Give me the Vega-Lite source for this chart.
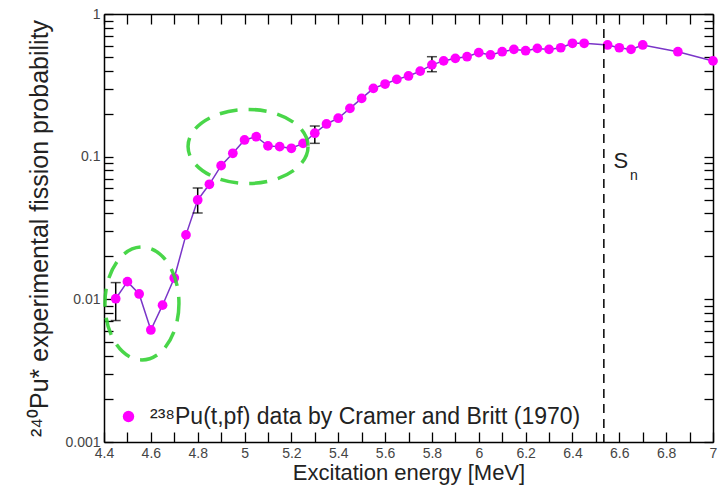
{
  "$schema": "https://vega.github.io/schema/vega-lite/v6.json",
  "width": 609,
  "height": 428,
  "autosize": {"type": "none"},
  "padding": {"left": 104, "top": 14, "right": 12, "bottom": 46},
  "background": "white",
  "config": {
    "view": {"stroke": null},
    "font": "Liberation Sans",
    "axis": {
      "grid": false,
      "domainColor": "black",
      "domainWidth": 1.5,
      "tickColor": "black",
      "tickWidth": 1.3,
      "labelFont": "Liberation Sans",
      "labelFontSize": 14,
      "labelColor": "#444",
      "titleFont": "Liberation Sans",
      "titleFontWeight": "normal",
      "titleColor": "#222",
      "labelFlush": false
    }
  },
  "datasets": {
    "pts": [
      {"E": 4.45, "P": 0.0101}, {"E": 4.50, "P": 0.0133}, {"E": 4.55, "P": 0.0109}, {"E": 4.60, "P": 0.0061},
      {"E": 4.65, "P": 0.0091}, {"E": 4.70, "P": 0.0141}, {"E": 4.75, "P": 0.0283}, {"E": 4.80, "P": 0.0497},
      {"E": 4.85, "P": 0.064}, {"E": 4.90, "P": 0.0865}, {"E": 4.95, "P": 0.1056}, {"E": 5.00, "P": 0.131},
      {"E": 5.05, "P": 0.138}, {"E": 5.10, "P": 0.119}, {"E": 5.15, "P": 0.1175}, {"E": 5.20, "P": 0.1145},
      {"E": 5.25, "P": 0.124}, {"E": 5.30, "P": 0.146}, {"E": 5.35, "P": 0.1695}, {"E": 5.40, "P": 0.186},
      {"E": 5.45, "P": 0.218}, {"E": 5.50, "P": 0.256}, {"E": 5.55, "P": 0.301}, {"E": 5.60, "P": 0.323},
      {"E": 5.65, "P": 0.348}, {"E": 5.70, "P": 0.368}, {"E": 5.75, "P": 0.398}, {"E": 5.80, "P": 0.44},
      {"E": 5.85, "P": 0.469}, {"E": 5.90, "P": 0.489}, {"E": 5.95, "P": 0.502}, {"E": 6.00, "P": 0.536},
      {"E": 6.05, "P": 0.516}, {"E": 6.10, "P": 0.544}, {"E": 6.15, "P": 0.565}, {"E": 6.20, "P": 0.553},
      {"E": 6.25, "P": 0.574}, {"E": 6.30, "P": 0.565}, {"E": 6.35, "P": 0.58}, {"E": 6.40, "P": 0.623},
      {"E": 6.45, "P": 0.623}, {"E": 6.55, "P": 0.607}, {"E": 6.60, "P": 0.58}, {"E": 6.65, "P": 0.565},
      {"E": 6.70, "P": 0.607}, {"E": 6.85, "P": 0.544}, {"E": 7.00, "P": 0.469}
    ],
    "err": [
      {"E": 4.45, "lo": 0.0071, "hi": 0.0131},
      {"E": 4.80, "lo": 0.0403, "hi": 0.0603},
      {"E": 5.30, "lo": 0.124, "hi": 0.164},
      {"E": 5.80, "lo": 0.394, "hi": 0.502}
    ],
    "one": [{}]
  },
  "resolve": {"axis": {"x": "independent", "y": "independent"}},
  "layer": [
    {
      "data": {"name": "pts"},
      "mark": {"type": "line", "color": "#7a35c8", "strokeWidth": 1.5},
      "encoding": {
        "x": {
          "field": "E", "type": "quantitative",
          "scale": {"domain": [4.4, 7], "nice": false, "zero": false},
          "axis": {
            "orient": "bottom",
            "title": "Excitation energy [MeV]",
            "titleFontSize": 22,
            "values": [4.4, 4.5, 4.6, 4.7, 4.8, 4.9, 5.0, 5.1, 5.2, 5.3, 5.4, 5.5, 5.6, 5.7, 5.8, 5.9, 6.0, 6.1, 6.2, 6.3, 6.4, 6.5, 6.6, 6.7, 6.8, 6.9, 7.0],
            "format": "~g",
            "labelExpr": "round(datum.value*10) % 2 == 0 ? datum.label : ''",
            "tickSize": -10,
            "labelPadding": 14,
            "titlePadding": 2
          }
        },
        "y": {
          "field": "P", "type": "quantitative",
          "scale": {"type": "log", "domain": [0.001, 1], "nice": false},
          "axis": {
            "orient": "left",
            "title": "²⁴⁰Pu* experimental fission probability",
            "titleFontSize": 25,
            "values": [0.001, 0.002, 0.003, 0.004, 0.005, 0.006, 0.007, 0.008, 0.009, 0.01, 0.02, 0.03, 0.04, 0.05, 0.06, 0.07, 0.08, 0.09, 0.1, 0.2, 0.3, 0.4, 0.5, 0.6, 0.7, 0.8, 0.9, 1],
            "format": "~g",
            "labelExpr": "(datum.value == 0.001 || datum.value == 0.01 || datum.value == 0.1 || datum.value == 1) ? datum.label : ''",
            "tickSize": -9,
            "labelPadding": 13,
            "titlePadding": 12
          }
        }
      }
    },
    {
      "data": {"name": "err"},
      "mark": {"type": "rule", "color": "black", "strokeWidth": 1.5},
      "encoding": {
        "x": {
          "field": "E", "type": "quantitative",
          "axis": {
            "orient": "top", "title": null, "labels": false,
            "values": [4.4, 4.5, 4.6, 4.7, 4.8, 4.9, 5.0, 5.1, 5.2, 5.3, 5.4, 5.5, 5.6, 5.7, 5.8, 5.9, 6.0, 6.1, 6.2, 6.3, 6.4, 6.5, 6.6, 6.7, 6.8, 6.9, 7.0],
            "tickSize": -10
          }
        },
        "y": {
          "field": "lo", "type": "quantitative",
          "axis": {
            "orient": "right", "title": null, "labels": false,
            "values": [0.001, 0.002, 0.003, 0.004, 0.005, 0.006, 0.007, 0.008, 0.009, 0.01, 0.02, 0.03, 0.04, 0.05, 0.06, 0.07, 0.08, 0.09, 0.1, 0.2, 0.3, 0.4, 0.5, 0.6, 0.7, 0.8, 0.9, 1],
            "tickSize": -9
          }
        },
        "y2": {"field": "hi"}
      }
    },
    {
      "data": {"name": "pts"},
      "mark": {"type": "point", "shape": "circle", "filled": true, "size": 95, "opacity": 1},
      "encoding": {
        "x": {"field": "E", "type": "quantitative", "axis": null},
        "y": {"field": "P", "type": "quantitative", "axis": null},
        "color": {
          "datum": "²³⁸Pu(t,pf) data by Cramer and Britt (1970)",
          "scale": {"range": ["#ff00ff"]},
          "legend": {
            "title": null,
            "orient": "bottom-left",
            "offset": 13,
            "labelFontSize": 23,
            "labelFont": "Liberation Sans",
            "labelColor": "#222",
            "labelLimit": 0,
            "labelOffset": 10,
            "symbolType": "circle",
            "symbolSize": 130,
            "symbolStrokeWidth": 0
          }
        }
      }
    },
    {
      "data": {"name": "err"},
      "mark": {"type": "tick", "orient": "horizontal", "color": "black", "size": 10, "thickness": 1.5},
      "encoding": {
        "x": {"field": "E", "type": "quantitative", "axis": null},
        "y": {"field": "lo", "type": "quantitative", "axis": null}
      }
    },
    {
      "data": {"name": "err"},
      "mark": {"type": "tick", "orient": "horizontal", "color": "black", "size": 10, "thickness": 1.5},
      "encoding": {
        "x": {"field": "E", "type": "quantitative", "axis": null},
        "y": {"field": "hi", "type": "quantitative", "axis": null}
      }
    },
    {
      "data": {"name": "one"},
      "mark": {
        "type": "point",
        "filled": false,
        "color": "#36d236",
        "strokeWidth": 3.5,
        "strokeDash": [18, 11],
        "opacity": 0.9,
        "size": 12769,
        "shape": "M 0.655 0 C 0.655 0.5523 0.3618 1 0 1 C -0.3618 1 -0.655 0.5523 -0.655 0 C -0.655 -0.5523 -0.3618 -1 0 -1 C 0.3618 -1 0.655 -0.5523 0.655 0 Z"
      },
      "encoding": {
        "x": {"datum": 4.562, "type": "quantitative", "axis": null},
        "y": {"datum": 0.00936, "type": "quantitative", "axis": null}
      }
    },
    {
      "data": {"name": "one"},
      "mark": {
        "type": "point",
        "filled": false,
        "color": "#36d236",
        "strokeWidth": 3.5,
        "strokeDash": [18, 11],
        "opacity": 0.9,
        "size": 14400,
        "shape": "M 1 0 C 1 0.3408 0.5523 0.617 0 0.617 C -0.5523 0.617 -1 0.3408 -1 0 C -1 -0.3408 -0.5523 -0.617 0 -0.617 C 0.5523 -0.617 1 -0.3408 1 0 Z"
      },
      "encoding": {
        "x": {"datum": 5.015, "type": "quantitative", "axis": null},
        "y": {"datum": 0.1179, "type": "quantitative", "axis": null}
      }
    },
    {
      "data": {"name": "one"},
      "mark": {"type": "rule", "color": "black", "strokeWidth": 1.5, "strokeDash": [9, 6]},
      "encoding": {
        "x": {"datum": 6.534, "type": "quantitative", "axis": null}
      }
    },
    {
      "data": {"name": "one"},
      "mark": {"type": "text", "text": "S", "fontSize": 22, "align": "left", "baseline": "alphabetic", "color": "#222", "font": "Liberation Sans"},
      "encoding": {
        "x": {"datum": 6.575, "type": "quantitative", "axis": null},
        "y": {"datum": 0.083, "type": "quantitative", "axis": null}
      }
    },
    {
      "data": {"name": "one"},
      "mark": {"type": "text", "text": "n", "fontSize": 14, "align": "left", "baseline": "alphabetic", "color": "#222", "font": "Liberation Sans"},
      "encoding": {
        "x": {"datum": 6.646, "type": "quantitative", "axis": null},
        "y": {"datum": 0.0687, "type": "quantitative", "axis": null}
      }
    }
  ]
}
